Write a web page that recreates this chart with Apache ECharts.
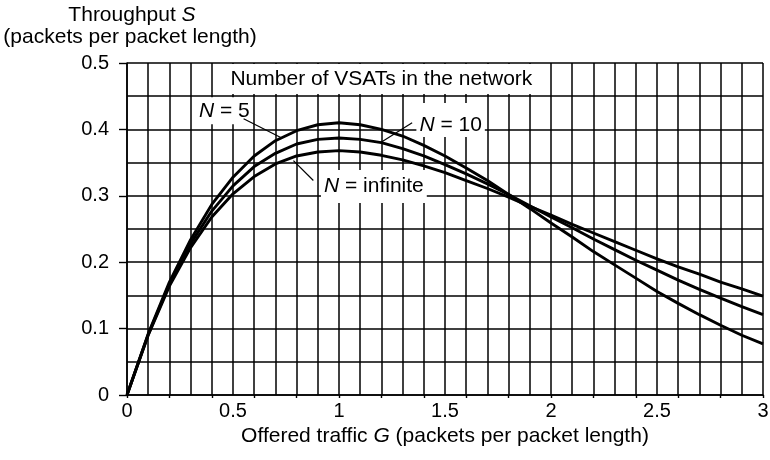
<!DOCTYPE html>
<html>
<head>
<meta charset="utf-8">
<script src="https://cdn.jsdelivr.net/npm/echarts@6/dist/echarts.min.js"></script>
<style>
  html, body { margin: 0; padding: 0; background: #fff; }
  #chart { width: 770px; height: 460px; }
</style>
</head>
<body>
<div id="chart"></div>
<script>
// Offered traffic G (packets per packet length)
const offeredTraffic = [0, 0.1, 0.2, 0.3, 0.4, 0.5, 0.6, 0.7, 0.8, 0.9, 1.0,
  1.1, 1.2, 1.3, 1.4, 1.5, 1.6, 1.7, 1.8, 1.9, 2.0,
  2.1, 2.2, 2.3, 2.4, 2.5, 2.6, 2.7, 2.8, 2.9, 3.0];

// Throughput S for N = 5 VSATs
const throughputN5 = [0, 0.092, 0.170, 0.234, 0.287, 0.328, 0.360, 0.383, 0.398, 0.407, 0.410,
  0.407, 0.400, 0.390, 0.376, 0.360, 0.342, 0.323, 0.302, 0.281, 0.259,
  0.238, 0.216, 0.196, 0.176, 0.156, 0.138, 0.121, 0.105, 0.090, 0.077];

// Throughput S for N = 10 VSATs
const throughputN10 = [0, 0.091, 0.167, 0.228, 0.277, 0.315, 0.344, 0.364, 0.378, 0.385, 0.387,
  0.385, 0.380, 0.371, 0.360, 0.347, 0.333, 0.318, 0.302, 0.285, 0.268,
  0.252, 0.235, 0.219, 0.203, 0.188, 0.173, 0.159, 0.146, 0.133, 0.121];

// Throughput S for an infinite population
const throughputInf = [0, 0.090, 0.164, 0.222, 0.268, 0.303, 0.329, 0.348, 0.360, 0.366, 0.368,
  0.366, 0.361, 0.354, 0.345, 0.335, 0.323, 0.311, 0.298, 0.284, 0.271,
  0.257, 0.244, 0.231, 0.218, 0.205, 0.193, 0.182, 0.170, 0.160, 0.149];

// Tick marks and labels
const yTickValues = [0, 0.1, 0.2, 0.3, 0.4, 0.5];
const xTickValues = [0, 0.2, 0.4, 0.6, 0.8, 1.0, 1.2, 1.4, 1.6, 1.8, 2.0, 2.2, 2.4, 2.6, 2.8, 3.0];
const xLabelValues = [0, 0.5, 1, 1.5, 2, 2.5, 3];

const FONT = '"Liberation Sans", Arial, Helvetica, sans-serif';
const INK = '#000';

const toPairs = ys => offeredTraffic.map((g, i) => [g, ys[i]]);
const fmt = v => String(Number(v.toFixed(1)));

const chart = echarts.init(document.getElementById('chart'), null, { renderer: 'canvas' });

const curveStyle = { color: INK, width: 2.9 };
const makeSeries = (name, ys) => ({
  name, type: 'line', data: toPairs(ys), xAxisIndex: 0, yAxisIndex: 0,
  showSymbol: false, smooth: false,
  lineStyle: curveStyle, itemStyle: { color: INK }, silent: true, animation: false, z: 5
});

const gridLine = { color: INK, width: 1.5 };

// Fine grid axis (split lines only) plus an overlaid axis carrying ticks and labels
const gridAxisX = {
  type: 'value', min: 0, max: 3, interval: 0.1, position: 'bottom',
  axisLine: { show: true, lineStyle: { color: INK, width: 1.5 } },
  axisTick: { show: false }, axisLabel: { show: false },
  splitLine: { show: true, lineStyle: gridLine }
};
const tickAxisX = {
  type: 'value', min: 0, max: 3, interval: 0.1, position: 'bottom', offset: 0,
  axisLine: { show: false },
  axisTick: { show: true, length: 3, customValues: xTickValues, lineStyle: { color: INK, width: 1.4 } },
  axisLabel: { show: true, customValues: xLabelValues, margin: 6, color: INK, fontFamily: FONT, fontSize: 20, formatter: fmt },
  splitLine: { show: false }
};
const gridAxisY = {
  type: 'value', min: 0, max: 0.5, interval: 0.05, position: 'left',
  axisLine: { show: true, lineStyle: { color: INK, width: 1.5 } },
  axisTick: { show: false }, axisLabel: { show: false },
  splitLine: { show: true, lineStyle: gridLine }
};
const tickAxisY = {
  type: 'value', min: 0, max: 0.5, interval: 0.1, position: 'left', offset: 0,
  axisLine: { show: false },
  axisTick: { show: true, length: 8, customValues: yTickValues, lineStyle: { color: INK, width: 1.4 } },
  axisLabel: { show: true, customValues: yTickValues, margin: 18, color: INK, fontFamily: FONT, fontSize: 20, formatter: fmt },
  splitLine: { show: false }
};

chart.setOption({
  animation: false,
  backgroundColor: '#fff',
  grid: { left: 127, right: 7, top: 63, bottom: 65, containLabel: false, outerBoundsMode: 'none' },
  xAxis: [gridAxisX, tickAxisX],
  yAxis: [gridAxisY, tickAxisY],
  series: [
    makeSeries('N = 5', throughputN5),
    makeSeries('N = 10', throughputN10),
    makeSeries('N = infinite', throughputInf)
  ]
});

// Curve labels with leader lines, placed in data coordinates
const curveLabels = [
  { text: '{i|N} = 5', at: [0.325, 0.428], from: [0.55, 0.416], to: [0.73, 0.387], pad: [3, 3, 3, 3] },
  { text: '{i|N} = 10', at: [1.365, 0.414], from: [1.345, 0.410], to: [1.195, 0.380], pad: [12, 3, 1, 3] },
  { text: '{i|N} = infinite', at: [0.915, 0.314], from: [0.879, 0.323], to: [0.785, 0.353], pad: [6, 3, 6, 3] }
];

const SIZE = 21;
const richItalic = { i: { fontStyle: 'italic', fontFamily: FONT, fontSize: SIZE, fill: INK } };

function textEl(x, y, text, align, extra) {
  return {
    type: 'text', x, y, silent: true, z: 20,
    style: Object.assign({
      text, fill: INK, font: SIZE + 'px ' + FONT,
      textAlign: align, align: align,
      textVerticalAlign: 'middle', verticalAlign: 'middle',
      rich: richItalic
    }, extra || {})
  };
}

function buildGraphics() {
  const px = p => chart.convertToPixel({ xAxisIndex: 0, yAxisIndex: 0 }, p);
  const els = [];

  // Caption box inside the plot
  const cap = px([1.2, 0.476]);
  els.push(textEl(cap[0], cap[1], 'Number of VSATs in the network', 'center',
    { backgroundColor: '#fff', padding: [5, 6, 4, 6] }));

  curveLabels.forEach(lab => {
    const a = px(lab.at), f = px(lab.from), t = px(lab.to);
    els.push(textEl(a[0], a[1], lab.text, 'left', { backgroundColor: '#fff', padding: lab.pad }));
    els.push({
      type: 'line', silent: true, z: 25,
      shape: { x1: f[0], y1: f[1], x2: t[0], y2: t[1] },
      style: { stroke: INK, lineWidth: 1.2 }
    });
  });

  // Axis titles
  const left = px([0, 0])[0], right = px([3, 0])[0];
  els.push(textEl(132, 15, 'Throughput {i|S}', 'center'));
  els.push(textEl(130, 37, '(packets per packet length)', 'center'));
  els.push(textEl((left + right) / 2, 436, 'Offered traffic {i|G} (packets per packet length)', 'center'));
  return els;
}

chart.setOption({ graphic: { elements: buildGraphics() } });
</script>
</body>
</html>
